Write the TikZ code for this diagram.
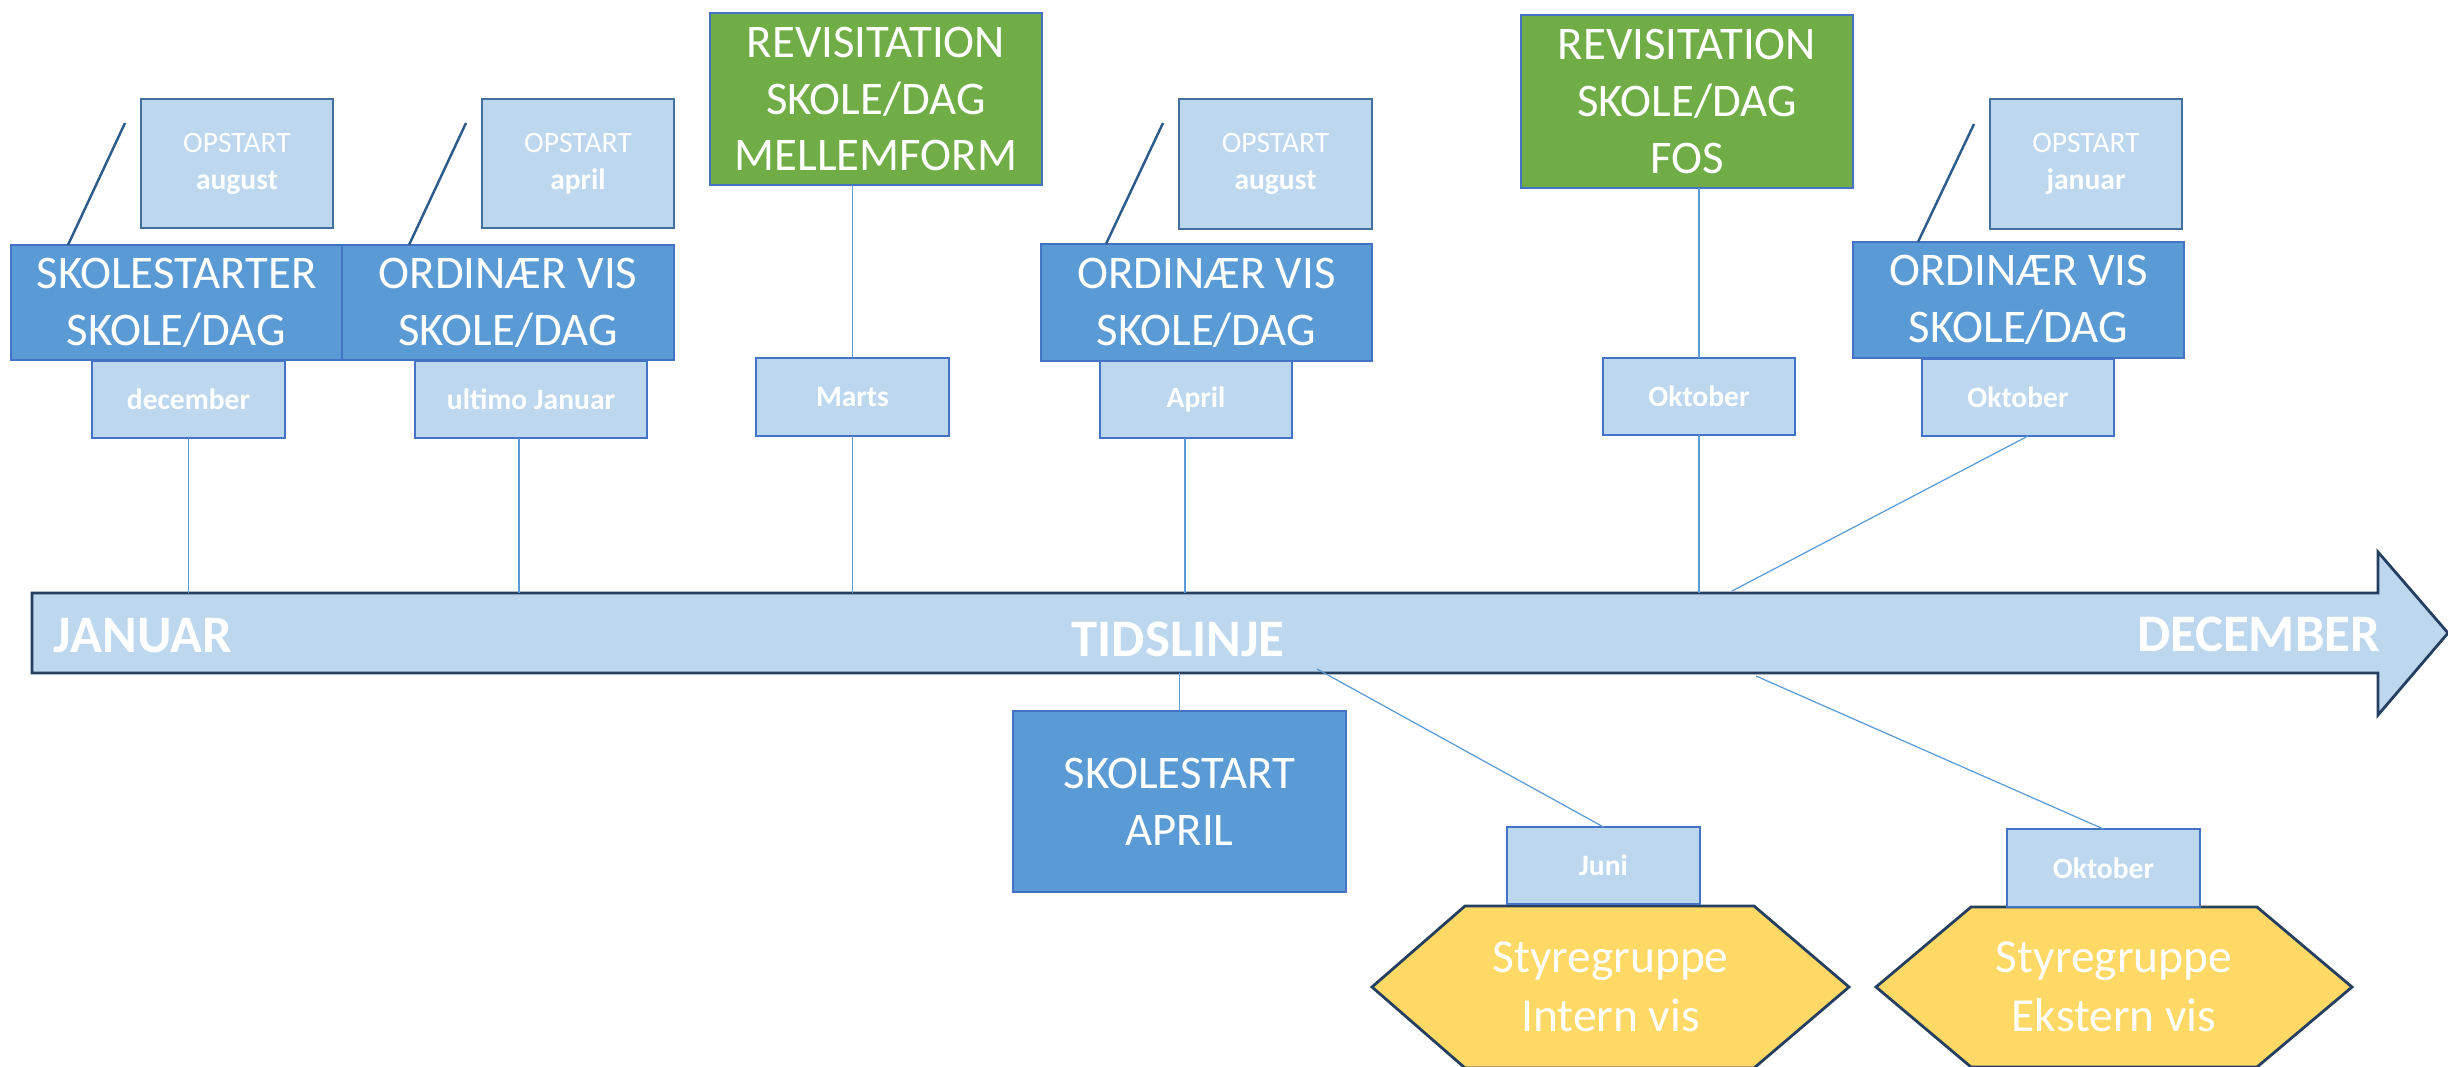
\documentclass[tikz,border=0pt]{standalone}
\usepackage{fontspec}
\setmainfont{Carlito}
\usetikzlibrary{calc}
\definecolor{lightfill}{HTML}{BDD7EE}
\definecolor{midfill}{HTML}{5B9BD5}
\definecolor{greenfill}{HTML}{70AD47}
\definecolor{yellowfill}{HTML}{FFD966}
\definecolor{boxedge}{HTML}{4472C4}
\definecolor{opedge}{HTML}{41719C}
\definecolor{darkedge}{HTML}{243F60}
\definecolor{connc}{HTML}{5B9BD5}
\definecolor{tickc}{HTML}{2E5C8A}
\begin{document}
\begin{tikzpicture}[x=0.01cm,y=-0.01cm,
  every node/.style={inner sep=0pt, outer sep=0pt, text=white},
  wh/.style 2 args={minimum width=#1*0.01cm, minimum height=#2*0.01cm},
  lbox/.style={draw=boxedge, fill=lightfill, line width=0.6pt},
  opbox/.style={draw=opedge, fill=lightfill, line width=0.7pt},
  mbox/.style={draw=boxedge, fill=midfill, line width=0.7pt},
  gbox/.style={draw=boxedge, fill=greenfill, line width=0.7pt},
  big/.style={font=\fontsize{13.3}{16.2}\selectfont, align=center},
  small/.style={font=\fontsize{8.4}{10.5}\selectfont, align=center},
  tltext/.style={font=\bfseries\fontsize{15}{18}\selectfont},
  conn/.style={draw=connc, line width=0.35pt},
  tickline/.style={draw=tickc, line width=0.7pt},
  hexa/.style={draw=darkedge, fill=yellowfill, line width=0.8pt, line join=miter},
]
\useasboundingbox (0,0) rectangle (2448,1066);

% timeline arrow
\path[fill=lightfill, draw=darkedge, line width=0.8pt, line join=miter]
  (32,593) -- (2378,593) -- (2378,552) -- (2448,633) -- (2378,715) -- (2378,673) -- (32,673) -- cycle;
\node[wh={2346}{80}] (tl) at (1205,633) {};
\node[tltext, anchor=west] (jan) at (54,636) {JANUAR};
\node[tltext] (tid) at (1178,639) {TIDSLINJE};
\node[tltext, anchor=east] (decm) at (2380,634) {DECEMBER};

% OPSTART boxes
\node[opbox, small, wh={192}{129}] (op1) at (237,163.5) {OPSTART\\\textbf{august}};
\node[opbox, small, wh={192}{129}] (op2) at (578,163.5) {OPSTART\\\textbf{april}};
\node[opbox, small, wh={193}{130}] (op3) at (1275.5,164) {OPSTART\\\textbf{august}};
\node[opbox, small, wh={192}{130}] (op4) at (2086,164) {OPSTART\\\textbf{januar}};

% green boxes
\node[gbox, big, wh={332}{172}] (rev1) at (876,99) {REVISITATION\\SKOLE/DAG\\MELLEMFORM};
\node[gbox, big, wh={332}{173}] (rev2) at (1687,101.5) {REVISITATION\\SKOLE/DAG\\FOS};

% medium blue boxes
\node[mbox, big, wh={331}{115}] (sk) at (176.5,302.5) {SKOLESTARTER\\SKOLE/DAG};
\node[mbox, big, wh={332}{115}] (ord1) at (508,302.5) {ORDINÆR VIS\\SKOLE/DAG};
\node[mbox, big, wh={331}{117}] (ord2) at (1206.5,302.5) {ORDINÆR VIS\\SKOLE/DAG};
\node[mbox, big, wh={331}{116}] (ord3) at (2018.5,300) {ORDINÆR VIS\\SKOLE/DAG};
\node[mbox, big, wh={333}{181}] (sk2) at (1179.5,801.5) {SKOLESTART\\APRIL};

% tick lines from OPSTART
\coordinate (t1a) at (125,123); \coordinate (t1b) at (68,245);
\coordinate (t2a) at (466,123); \coordinate (t2b) at (409,245);
\coordinate (t3a) at (1163,123); \coordinate (t3b) at (1106,244);
\coordinate (t4a) at (1974,124); \coordinate (t4b) at (1918,242);
\draw[tickline] (t1a) -- (t1b);
\draw[tickline] (t2a) -- (t2b);
\draw[tickline] (t3a) -- (t3b);
\draw[tickline] (t4a) -- (t4b);

% month boxes
\node[lbox, small, font=\bfseries\fontsize{8.4}{10.5}\selectfont, wh={193}{77}] (dec) at (188.5,399.5) {december};
\node[lbox, small, font=\bfseries\fontsize{8.4}{10.5}\selectfont, wh={232}{77}] (ult) at (531,399.5) {ultimo Januar};
\node[lbox, small, font=\bfseries\fontsize{8.4}{10.5}\selectfont, wh={193}{78}] (marts) at (852.5,397) {Marts};
\node[lbox, small, font=\bfseries\fontsize{8.4}{10.5}\selectfont, wh={192}{77}] (apr) at (1196,399.5) {April};
\node[lbox, small, font=\bfseries\fontsize{8.4}{10.5}\selectfont, wh={192}{77}] (okt1) at (1699,396.5) {Oktober};
\node[lbox, small, font=\bfseries\fontsize{8.4}{10.5}\selectfont, wh={192}{77}] (okt2) at (2018,397.5) {Oktober};

% hexagons
\path[hexa] (1372,987) -- (1465,906) -- (1754,906) -- (1849,987) -- (1754,1068) -- (1465,1068) -- cycle;
\node[big, font=\fontsize{13.5}{16.8}\selectfont] (hex1) at (1610.5,987) {Styregruppe\\Intern vis};
\path[hexa] (1876,987) -- (1971,907) -- (2257,907) -- (2352,987) -- (2257,1067) -- (1971,1067) -- cycle;
\node[big, font=\fontsize{13.5}{16.8}\selectfont] (hex2) at (2114,987) {Styregruppe\\Ekstern vis};

\node[lbox, small, font=\bfseries\fontsize{8.4}{10.5}\selectfont, wh={193}{77}] (juni) at (1603.5,865.5) {Juni};
\node[lbox, small, font=\bfseries\fontsize{8.4}{10.5}\selectfont, wh={193}{78}] (okt3) at (2103.5,868) {Oktober};

% connectors
\draw[conn] (dec.south) -- (dec.south |- tl.north);
\draw[conn] ($(ult.south)+(-12,0)$) -- ($(ult.south |- tl.north)+(-12,0)$);
\draw[conn] (marts.north |- rev1.south) -- (marts.north);
\draw[conn] (marts.south) -- (marts.south |- tl.north);
\draw[conn] ($(apr.south)+(-11,0)$) -- ($(apr.south |- tl.north)+(-11,0)$);
\draw[conn] (okt1.north |- rev2.south) -- (okt1.north);
\draw[conn] (okt1.south) -- (okt1.south |- tl.north);
\coordinate (o2end) at (1732,591);
\draw[conn] ($(okt2.south)+(10,0)$) -- (o2end);
\draw[conn] (sk2.north |- tl.south) -- (sk2.north);
\coordinate (jstart) at (1317,669);
\draw[conn] (jstart) -- (juni.north);
\coordinate (o3start) at (1756,676);
\draw[conn] (o3start) -- (okt3.north);
\end{tikzpicture}
\end{document}
